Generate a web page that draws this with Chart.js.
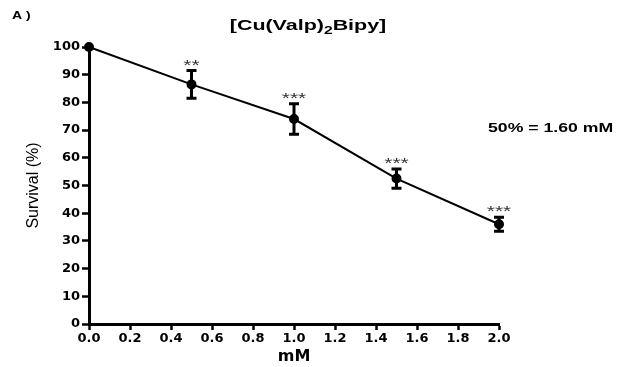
<!DOCTYPE html>
<html>
<head>
<meta charset="utf-8">
<script src="https://cdn.jsdelivr.net/npm/chart.js@4.4.0/dist/chart.umd.min.js"></script>
<style>
  html, body { margin: 0; padding: 0; background: #fff; }
</style>
</head>
<body>
<canvas id="chart" width="617" height="367"></canvas>
<script>
// Data
const doses = [0, 0.5, 1.0, 1.5, 2.0];          // mM
const survival = [100, 86.5, 74, 52.5, 36];     // %
const errors = [0, 5, 5.5, 3.5, 2.5];           // +/- error bars
const stars = ['', '**', '***', '***', '***'];  // significance

const BOLD = 'bold 15px "Liberation Sans", Arial, sans-serif';

// draw text squeezed wider, like the original image
function wideText(ctx, text, x, y, font, sx) {
    ctx.save();
    ctx.font = font;
    ctx.translate(x, y);
    ctx.scale(sx, 1);
    ctx.fillText(text, 0, 0);
    ctx.restore();
}

const extras = {
    id: 'extras',
    afterDatasetsDraw(chart) {
        const { ctx } = chart;
        const x = chart.scales.x, y = chart.scales.y;
        ctx.save();
        ctx.strokeStyle = '#000';
        ctx.fillStyle = '#000';
        ctx.lineWidth = 3;

        doses.forEach((d, i) => {
            if (!errors[i]) return;
            const px = x.getPixelForValue(d);
            const top = y.getPixelForValue(survival[i] + errors[i]);
            const bot = y.getPixelForValue(survival[i] - errors[i]);
            ctx.beginPath();
            ctx.moveTo(px, top); ctx.lineTo(px, bot);
            ctx.moveTo(px - 5, top); ctx.lineTo(px + 5, top);
            ctx.moveTo(px - 5, bot); ctx.lineTo(px + 5, bot);
            ctx.stroke();

            if (stars[i]) {
                const sf = '15px "Liberation Sans", Arial, sans-serif';
                ctx.font = sf;
                const w = ctx.measureText(stars[i]).width * 1.4;
                ctx.fillStyle = '#333';
                wideText(ctx, stars[i], px - w / 2, top - 1, sf, 1.4);
                ctx.fillStyle = '#000';
            }
        });

        // panel letter
        ctx.textBaseline = 'alphabetic';
        wideText(ctx, 'A )', 12, 19, 'bold 10px "Liberation Sans", Arial, sans-serif', 1.4);

        // title with subscript
        const parts = [
            { t: '[Cu(Valp)', f: BOLD, dy: 0 },
            { t: '2', f: 'bold 11px "Liberation Sans", Arial, sans-serif', dy: 4 },
            { t: 'Bipy]', f: BOLD, dy: 0 }
        ];
        let total = 0;
        parts.forEach(p => { ctx.font = p.f; p.w = ctx.measureText(p.t).width * 1.43; total += p.w; });
        let tx = 308 - total / 2;
        parts.forEach(p => {
            wideText(ctx, p.t, tx, 30 + p.dy, p.f, 1.43);
            tx += p.w;
        });

        // IC50 note
        wideText(ctx, '50% = 1.60 mM', 488, 132, 'bold 13px "Liberation Sans", Arial, sans-serif', 1.36);
        ctx.restore();
    }
};

new Chart(document.getElementById('chart'), {
    type: 'line',
    data: {
        datasets: [{
            data: doses.map((d, i) => ({ x: d, y: survival[i] })),
            borderColor: '#000',
            backgroundColor: '#000',
            borderWidth: 2,
            pointRadius: 4,
            pointHoverRadius: 4,
            tension: 0,
            clip: false
        }]
    },
    options: {
        responsive: false,
        animation: false,
        devicePixelRatio: 1,
        layout: { padding: { top: 47, right: 118, bottom: 0, left: 0 } },
        plugins: {
            legend: { display: false },
            tooltip: { enabled: false }
        },
        scales: {
            x: {
                type: 'linear',
                min: 0,
                max: 2,
                afterFit: s => { s.height = 43; },
                ticks: {
                    stepSize: 0.2,
                    color: '#000',
                    padding: 1,
                    font: { family: 'DejaVu Sans', weight: 'bold', size: 13 },
                    callback: v => v.toFixed(1)
                },
                grid: { drawOnChartArea: false, tickLength: 6, tickColor: '#000', tickWidth: 2.5 },
                border: { color: '#000', width: 3 },
                title: {
                    display: true,
                    text: 'mM',
                    color: '#000',
                    padding: { top: 0, bottom: 1 },
                    font: { family: 'DejaVu Sans', weight: 'bold', size: 16 }
                }
            },
            y: {
                min: 0,
                max: 100,
                afterFit: s => { s.width = 89; },
                ticks: {
                    stepSize: 10,
                    color: '#000',
                    padding: 2,
                    font: { family: 'DejaVu Sans', weight: 'bold', size: 13 }
                },
                grid: { drawOnChartArea: false, tickLength: 7, tickColor: '#000', tickWidth: 2.5 },
                border: { color: '#000', width: 3 },
                title: {
                    display: true,
                    text: 'Survival (%)',
                    color: '#000',
                    padding: { top: 24, bottom: 0 },
                    font: { family: 'Liberation Sans', size: 16 }
                }
            }
        }
    },
    plugins: [extras]
});
</script>
</body>
</html>
